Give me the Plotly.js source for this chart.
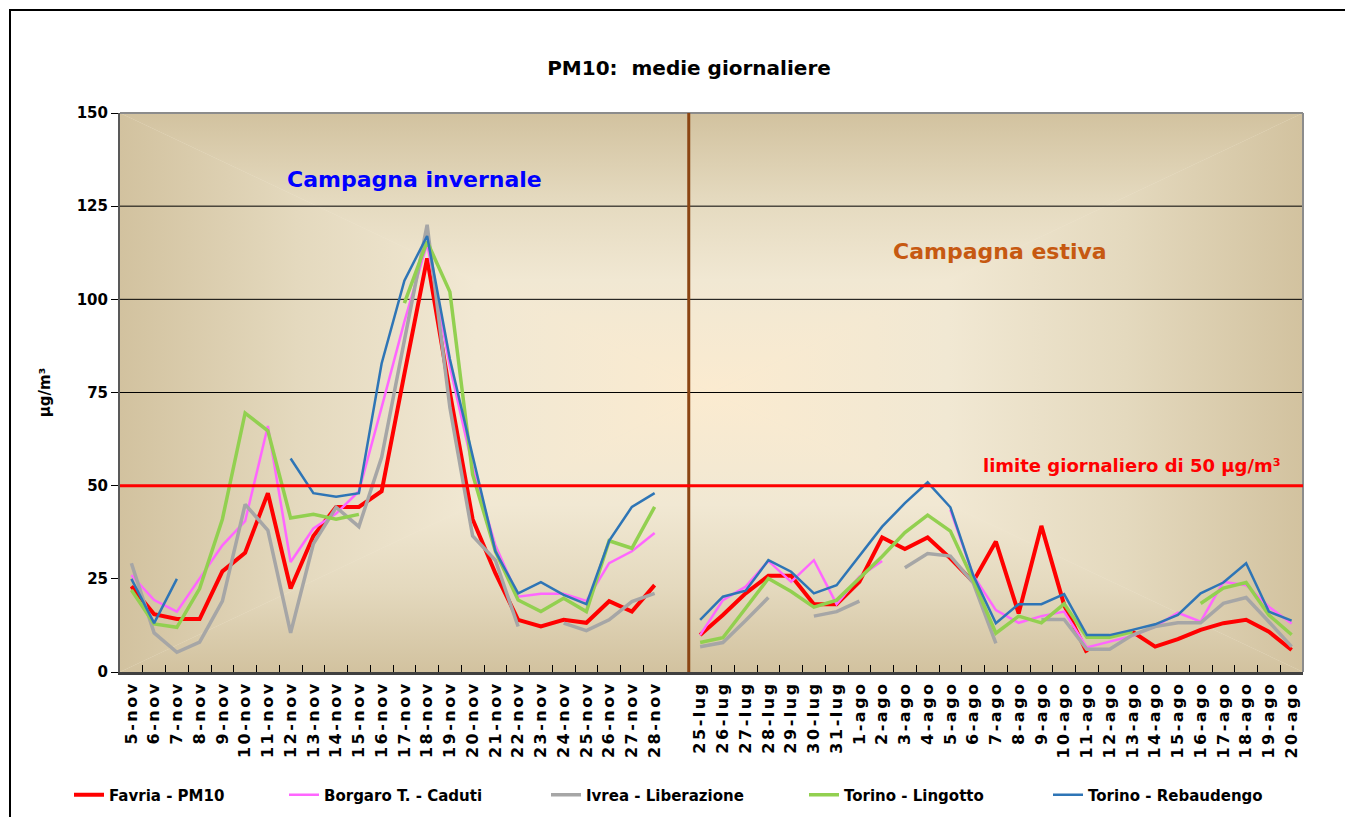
<!DOCTYPE html>
<html>
<head>
<meta charset="utf-8">
<script src="https://cdn.plot.ly/plotly-3.0.1.min.js"></script>
<style>
  html, body { margin: 0; padding: 0; background: #ffffff; }
  #chart { width: 1345px; height: 817px; }
  #chart .xtick text { letter-spacing: 2.5px; }
</style>
</head>
<body>
<div id="chart"></div>
<script>
// ---- categories ----
const winterDays = ['5-nov','6-nov','7-nov','8-nov','9-nov','10-nov','11-nov','12-nov','13-nov','14-nov','15-nov','16-nov',
  '17-nov','18-nov','19-nov','20-nov','21-nov','22-nov','23-nov','24-nov','25-nov','26-nov','27-nov','28-nov'];
const gapLabel = '\u00a0';
const summerDays = ['25-lug','26-lug','27-lug','28-lug','29-lug','30-lug','31-lug',
  '1-ago','2-ago','3-ago','4-ago','5-ago','6-ago','7-ago','8-ago','9-ago','10-ago',
  '11-ago','12-ago','13-ago','14-ago','15-ago','16-ago','17-ago','18-ago','19-ago','20-ago'];
const categories = [...winterDays, gapLabel, ...summerDays];

// ---- series values (µg/m³) ----
const favriaWinter = [23, 15.5, 14.2, 14.2, 27, 32, 48, 22.4, 36.5, 44.3, 44.3, 48.5, 80, 111, 75, 41, 26.5, 14, 12.2, 14, 13.2, 19, 16.2, 23.3];
const favriaSummer = [9.9, 15.3, 21.1, 25.8, 25.8, 18.2, 18.2, 24.2, 36.1, 33, 36.1, 30.5, 24.2, 35, 15.7, 39.2, 18, 5.2, null, 10.8, 6.8, 8.8, 11.3, 13.1, 14, 10.8, 5.9];

const borgaroWinter = [26, 19.3, 16.2, 25, 34, 40.5, 66, 29.5, 38.5, 42.5, 48.5, 71, 94, 115, 82, 55, 34, 20.2, 21, 21, 19.1, 29.2, 32.4, 37.3];
const borgaroSummer = [9.9, 19.3, 22.9, 29.8, 24.2, 30, 18.2, 25.6, 29.8, null, null, 43.5, 26, 16.6, 13.2, 15, 16.2, 6.6, 8.1, 9.7, 12.2, 15.9, 13.5, 24.2, 23.3, 17.5, 13];

const ivreaWinter = [29.2, 10.5, 5.3, 8, 19, 45, 38, 10.5, 34.4, 44.2, 39, 57.6, 89, 120, 71, 36.5, 30, 12.2, null, 13.1, 11.1, 14, 18.9, 21.1];
const ivreaSummer = [6.8, 7.9, 13.8, 20, null, 15, 16.2, 19, null, 28, 31.8, 31.1, 24, 7.7, null, 14.1, 14.1, 6.1, 6.1, 9.9, 12.2, 13.2, 13.2, 18.4, 20, 13.5, 6.8];

const lingottoWinter = [22, 12.9, 12, 22.4, 41, 69.5, 64.7, 41.3, 42.3, 41, 42.3, null, 99, 115.5, 102, 53, 32.4, 19.3, 16.2, 19.8, 16.2, 35.2, 33.2, 44.3];
const lingottoSummer = [7.9, 9.2, 17.1, 25.1, 21.6, 17.4, 19.3, 25.1, 31, 37.4, 42.1, 37.8, 24.7, 10.4, 15, 13.2, 18.3, 9.3, 9.3, 10.8, null, null, 18.4, 22.5, 24, 15.3, 10];

const rebaudengoWinter = [25, 13.1, 25, null, null, null, null, 57.3, 48, 47, 48, 82.8, 105, 117, 84, 58, 32.4, 21.1, 24.1, 20.7, 18.2, 35.2, 44.3, 48];
const rebaudengoSummer = [14, 20.2, 21.8, 30, 26.9, 21.1, 23.3, 31, 39, 45.3, 50.9, 44.2, 26, 13.1, 18.2, 18.2, 20.9, 9.9, 9.9, 11.3, 12.8, 15.3, 21.1, 24, 29.2, 16.2, 13.8];

const seriesNames = ['Favria - PM10', 'Borgaro T. - Caduti', 'Ivrea - Liberazione', 'Torino - Lingotto', 'Torino - Rebaudengo'];
const seriesColors = ['#FF0000', '#FF66FF', '#A6A6A6', '#92D050', '#2E75B6'];
const seriesWidths = [4, 2.5, 3.5, 3.5, 2.5];
const limitValue = 50;
const yTicks = [0, 25, 50, 75, 100, 125, 150];
const gridValues = [75, 100, 125];

const seriesWinter = [favriaWinter, borgaroWinter, ivreaWinter, lingottoWinter, rebaudengoWinter];
const seriesSummer = [favriaSummer, borgaroSummer, ivreaSummer, lingottoSummer, rebaudengoSummer];

const FONT = 'DejaVu Sans, Liberation Sans, Arial, sans-serif';
const legendIds = ['legend', 'legend2', 'legend3', 'legend4', 'legend5'];
const legendLineStart = [74, 289, 551, 809, 1053];   // px, where each legend sample starts

const traces = seriesNames.map((name, i) => ({
  type: 'scatter',
  mode: 'lines',
  name: name,
  legend: legendIds[i],
  x: categories,
  y: [...seriesWinter[i], null, ...seriesSummer[i]],
  connectgaps: false,
  line: { color: seriesColors[i], width: seriesWidths[i] },
  hoverinfo: 'x+y+name'
}));

// ---- background: rectangular path gradient (Excel style) ----
const edge = '#D2C29F', mid1 = '#E4D9BE', mid2 = '#F1E8D3', centre = '#FBEBD0';
function stops() {
  return `<stop offset="0" stop-color="${edge}"/><stop offset="0.3" stop-color="${mid1}"/>` +
         `<stop offset="0.6" stop-color="${mid2}"/><stop offset="1" stop-color="${centre}"/>`;
}
const svgBg =
  `<svg xmlns="http://www.w3.org/2000/svg" width="1000" height="1000" viewBox="0 0 100 100" preserveAspectRatio="none">` +
  `<defs>` +
  `<linearGradient id="t" gradientUnits="userSpaceOnUse" x1="0" y1="0" x2="0" y2="50">${stops()}</linearGradient>` +
  `<linearGradient id="b" gradientUnits="userSpaceOnUse" x1="0" y1="100" x2="0" y2="50">${stops()}</linearGradient>` +
  `<linearGradient id="l" gradientUnits="userSpaceOnUse" x1="0" y1="0" x2="50" y2="0">${stops()}</linearGradient>` +
  `<linearGradient id="r" gradientUnits="userSpaceOnUse" x1="100" y1="0" x2="50" y2="0">${stops()}</linearGradient>` +
  `</defs>` +
  `<rect width="100" height="100" fill="${mid2}"/>` +
  `<polygon points="0,0 100,0 50,50" fill="url(#t)"/>` +
  `<polygon points="0,100 100,100 50,50" fill="url(#b)"/>` +
  `<polygon points="0,0 0,100 50,50" fill="url(#l)"/>` +
  `<polygon points="100,0 100,100 50,50" fill="url(#r)"/>` +
  `</svg>`;
const bgUri = 'data:image/svg+xml;charset=utf-8,' + encodeURIComponent(svgBg);

// pixel helpers for text placement (plot area 120..1303 x 113..672)
const PL = 120, PR = 1303, PT = 113, PB = 672;
const px = v => (v - PL) / (PR - PL);
const py = v => (PB - v) / (PB - PT);

const shapes = [];
gridValues.forEach(g => shapes.push({
  type: 'line', xref: 'paper', yref: 'y', x0: 0, x1: 1, y0: g, y1: g,
  line: { color: '#000000', width: 1 }, layer: 'below'
}));
// plot-area top & right border
shapes.push({ type: 'line', xref: 'paper', yref: 'paper', x0: 0, x1: 1, y0: 1, y1: 1, line: { color: '#8C8C8C', width: 2 } });
shapes.push({ type: 'line', xref: 'paper', yref: 'paper', x0: 1, x1: 1, y0: 0, y1: 1, line: { color: '#8C8C8C', width: 2 } });
// campaign separator
shapes.push({ type: 'line', xref: 'x', yref: 'paper', x0: winterDays.length + 0.5, x1: winterDays.length + 0.5, y0: 0, y1: 1,
  line: { color: '#8B4513', width: 3 } });
// daily limit
shapes.push({ type: 'line', xref: 'paper', yref: 'y', x0: 0, x1: 1, y0: limitValue, y1: limitValue,
  line: { color: '#FF0000', width: 3 } });
// outer chart frame
shapes.push({ type: 'rect', xref: 'paper', yref: 'paper', x0: px(10), x1: px(1360), y0: py(830), y1: py(10),
  line: { color: '#000000', width: 2 }, fillcolor: 'rgba(0,0,0,0)' });

const layout = {
  width: 1345, height: 817,
  margin: { l: PL, r: 1345 - PR, t: PT, b: 817 - PB, pad: 0 },
  paper_bgcolor: '#FFFFFF',
  plot_bgcolor: '#EDE3CB',
  font: { family: FONT, color: '#000000', size: 15 },
  title: { text: '<b>PM10:  medie giornaliere</b>', font: { family: FONT, size: 20, color: '#000000' },
    xref: 'container', yref: 'container', x: 689 / 1345, xanchor: 'center', y: 1 - 68 / 817, yanchor: 'middle' },
  showlegend: true,
  xaxis: {
    type: 'category', categoryorder: 'array', categoryarray: categories,
    range: [-0.5, categories.length - 0.5],
    tickson: 'boundaries', ticks: 'inside', ticklen: 7, tickcolor: '#000000', tickwidth: 1,
    tickangle: -90, tickfont: { family: FONT, size: 16, color: '#000000', weight: 'bold' },
    showgrid: false, showline: true, linecolor: '#404040', linewidth: 3, zeroline: false,
    fixedrange: true
  },
  yaxis: {
    range: [0, 150], tickvals: yTicks, ticks: 'outside', ticklen: 7, tickcolor: '#000000', tickwidth: 1,
    tickfont: { family: FONT, size: 15, color: '#000000', weight: 'bold' },
    showgrid: false, showline: true, linecolor: '#595959', linewidth: 2, zeroline: false,
    title: { text: '<b>µg/m³</b>', font: { family: FONT, size: 15, color: '#000000' }, standoff: 22 },
    fixedrange: true
  },
  images: [{ source: bgUri, xref: 'paper', yref: 'paper', x: 0, y: 1, sizex: 1, sizey: 1,
    xanchor: 'left', yanchor: 'top', sizing: 'stretch', layer: 'below' }],
  shapes: shapes,
  annotations: [
    { text: '<b>Campagna invernale</b>', xref: 'paper', yref: 'paper', x: px(414), y: py(179),
      xanchor: 'center', yanchor: 'middle',
      showarrow: false, font: { family: FONT, size: 22, color: '#0000FF' } },
    { text: '<b>Campagna estiva</b>', xref: 'paper', yref: 'paper', x: px(1000), y: py(252),
      xanchor: 'center', yanchor: 'middle',
      showarrow: false, font: { family: FONT, size: 22, color: '#C65911' } },
    { text: '<b>limite giornaliero di ' + limitValue + ' µg/m³</b>', xref: 'paper', yref: 'paper', x: px(1132), y: py(465),
      xanchor: 'center', yanchor: 'middle',
      showarrow: false, font: { family: FONT, size: 18, color: '#FF0000' } }
  ]
};

legendIds.forEach((id, i) => {
  layout[id] = {
    orientation: 'h', xref: 'container', yref: 'container', x: (legendLineStart[i] - 5) / 1345, xanchor: 'left',
    y: 1 - 795 / 817, yanchor: 'middle',
    font: { family: FONT, size: 15, color: '#000000', weight: 'bold' }, bgcolor: 'rgba(0,0,0,0)'
  };
});

Plotly.newPlot('chart', traces, layout, { displayModeBar: false, staticPlot: true });
</script>
</body>
</html>
